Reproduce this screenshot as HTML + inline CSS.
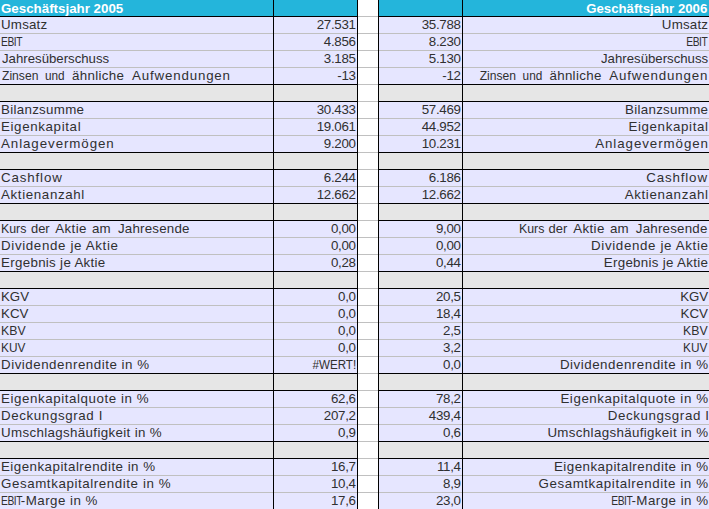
<!DOCTYPE html><html><head><meta charset="utf-8"><title>Kennzahlen</title><style>
html,body{margin:0;padding:0;background:#fff;}
body{width:709px;height:509px;overflow:hidden;position:relative;font-family:"Liberation Sans",sans-serif;}
.r{position:absolute;left:0;width:709px;height:17px;}
.c{position:absolute;top:0;height:16px;overflow:hidden;white-space:nowrap;font-size:13.33px;line-height:16px;color:#303030;}
.c span{position:absolute;top:0px;display:block;white-space:nowrap;}
.a{left:0;width:273px;}
.a span{left:0;transform-origin:0 50%;}
.b{left:274px;width:83px;}
.g{left:358px;width:20px;background:#fff !important;}
.cc{left:379px;width:83px;}
.d{left:463px;width:246px;}
.b span,.cc span,.d span{right:0;transform-origin:100% 50%;}
.D .c{background:#E6E6FF;}
.B .c{background:#E6E6E6;}
.H .c{background:#24B5DB;color:#fff;font-weight:bold;font-size:13.33px;}
.H .c span{top:1px;}
.hl{position:absolute;left:0;width:709px;height:1px;top:16px;background:#C0C0C0;}
.hk{position:absolute;left:0;width:709px;height:1px;top:16px;background:#000;}
.hg{position:absolute;left:358px;width:20px;height:1px;top:16px;background:#C0C0C0;}
.v{position:absolute;top:0;width:1px;height:509px;background:#000;}
</style></head><body>
<div class="r H" style="top:0px">
<div class="c a"><span style="left:1.00px">Geschäftsjahr 2005</span></div><div class="c b"></div><div class="c g"></div><div class="c cc"></div><div class="c d"><span style="transform:scaleX(0.9900);right:1.30px">Geschäftsjahr 2006</span></div>
<div class="hk"></div>
<div class="hg"></div>
</div>
<div class="r D" style="top:17px">
<div class="c a"><span style="letter-spacing:0.200px;left:1.00px">Umsatz</span></div><div class="c b"><span style="letter-spacing:-0.300px;right:1.30px">27.531</span></div><div class="c g"></div><div class="c cc"><span style="letter-spacing:-0.300px;right:1.30px">35.788</span></div><div class="c d"><span style="letter-spacing:0.200px;right:0.80px">Umsatz</span></div>
<div class="hl"></div>
</div>
<div class="r D" style="top:34px">
<div class="c a"><span style="letter-spacing:-0.600px;transform:scaleX(0.7700);left:1.00px">EBIT</span></div><div class="c b"><span style="letter-spacing:-0.300px;right:1.30px">4.856</span></div><div class="c g"></div><div class="c cc"><span style="letter-spacing:-0.300px;right:1.30px">8.230</span></div><div class="c d"><span style="letter-spacing:-0.600px;transform:scaleX(0.7700);right:1.46px">EBIT</span></div>
<div class="hl"></div>
</div>
<div class="r D" style="top:51px">
<div class="c a"><span style="transform:scaleX(0.9907);left:2.00px">Jahresüberschuss</span></div><div class="c b"><span style="letter-spacing:-0.300px;right:1.30px">3.185</span></div><div class="c g"></div><div class="c cc"><span style="letter-spacing:-0.300px;right:1.30px">5.130</span></div><div class="c d"><span style="transform:scaleX(0.9907);right:1.00px">Jahresüberschuss</span></div>
<div class="hl"></div>
</div>
<div class="r D" style="top:68px">
<div class="c a"><span style="transform:scaleX(0.9093);left:1.90px">Zinsen</span><span style="transform:scaleX(0.8843);left:45.00px">und</span><span style="letter-spacing:0.323px;left:72.10px">ähnliche</span><span style="letter-spacing:0.826px;left:132.00px">Aufwendungen</span></div><div class="c b"><span style="letter-spacing:-0.300px;right:1.30px">-13</span></div><div class="c g"></div><div class="c cc"><span style="letter-spacing:-0.300px;right:1.30px">-12</span></div><div class="c d"><span style="transform:scaleX(0.9093);right:193.42px">Zinsen</span><span style="transform:scaleX(0.8843);right:167.04px">und</span><span style="letter-spacing:0.323px;right:107.36px">ähnliche</span><span style="letter-spacing:0.826px;right:0.86px">Aufwendungen</span></div>
<div class="hk"></div>
<div class="hg"></div>
</div>
<div class="r B" style="top:85px">
<div class="c a"></div><div class="c b"></div><div class="c g"></div><div class="c cc"></div><div class="c d"></div>
<div class="hk"></div>
<div class="hg"></div>
</div>
<div class="r D" style="top:102px">
<div class="c a"><span style="letter-spacing:0.300px;left:1.00px">Bilanzsumme</span></div><div class="c b"><span style="letter-spacing:-0.300px;right:1.30px">30.433</span></div><div class="c g"></div><div class="c cc"><span style="letter-spacing:-0.300px;right:1.30px">57.469</span></div><div class="c d"><span style="letter-spacing:0.300px;right:0.70px">Bilanzsumme</span></div>
<div class="hl"></div>
</div>
<div class="r D" style="top:119px">
<div class="c a"><span style="letter-spacing:0.636px;left:1.00px">Eigenkapital</span></div><div class="c b"><span style="letter-spacing:-0.300px;right:1.30px">19.061</span></div><div class="c g"></div><div class="c cc"><span style="letter-spacing:-0.300px;right:1.30px">44.952</span></div><div class="c d"><span style="letter-spacing:0.636px;right:0.36px">Eigenkapital</span></div>
<div class="hl"></div>
</div>
<div class="r D" style="top:136px">
<div class="c a"><span style="letter-spacing:0.923px;left:1.00px">Anlagevermögen</span></div><div class="c b"><span style="letter-spacing:-0.300px;right:1.30px">9.200</span></div><div class="c g"></div><div class="c cc"><span style="letter-spacing:-0.300px;right:1.30px">10.231</span></div><div class="c d"><span style="letter-spacing:0.923px;right:0.08px">Anlagevermögen</span></div>
<div class="hk"></div>
<div class="hg"></div>
</div>
<div class="r B" style="top:153px">
<div class="c a"></div><div class="c b"></div><div class="c g"></div><div class="c cc"></div><div class="c d"></div>
<div class="hk"></div>
<div class="hg"></div>
</div>
<div class="r D" style="top:170px">
<div class="c a"><span style="letter-spacing:0.857px;left:1.00px">Cashflow</span></div><div class="c b"><span style="letter-spacing:-0.300px;right:1.30px">6.244</span></div><div class="c g"></div><div class="c cc"><span style="letter-spacing:-0.300px;right:1.30px">6.186</span></div><div class="c d"><span style="letter-spacing:0.857px;right:1.14px">Cashflow</span></div>
<div class="hl"></div>
</div>
<div class="r D" style="top:187px">
<div class="c a"><span style="letter-spacing:0.636px;left:1.00px">Aktienanzahl</span></div><div class="c b"><span style="letter-spacing:-0.300px;right:1.30px">12.662</span></div><div class="c g"></div><div class="c cc"><span style="letter-spacing:-0.300px;right:1.30px">12.662</span></div><div class="c d"><span style="letter-spacing:0.636px;right:0.36px">Aktienanzahl</span></div>
<div class="hk"></div>
<div class="hg"></div>
</div>
<div class="r B" style="top:204px">
<div class="c a"></div><div class="c b"></div><div class="c g"></div><div class="c cc"></div><div class="c d"></div>
<div class="hk"></div>
<div class="hg"></div>
</div>
<div class="r D" style="top:221px">
<div class="c a"><span style="transform:scaleX(0.9274);left:1.07px">Kurs</span><span style="transform:scaleX(0.9685);left:31.00px">der</span><span style="letter-spacing:0.371px;left:55.30px">Aktie</span><span style="letter-spacing:0.188px;left:92.00px">am</span><span style="letter-spacing:0.207px;left:117.90px">Jahresende</span></div><div class="c b"><span style="letter-spacing:-0.300px;right:1.30px">0,00</span></div><div class="c g"></div><div class="c cc"><span style="letter-spacing:-0.300px;right:1.30px">9,00</span></div><div class="c d"><span style="transform:scaleX(0.9274);right:164.61px">Kurs</span><span style="transform:scaleX(0.9685);right:141.44px">der</span><span style="letter-spacing:0.371px;right:104.32px">Aktie</span><span style="letter-spacing:0.188px;right:80.21px">am</span><span style="letter-spacing:0.207px;right:1.48px">Jahresende</span></div>
<div class="hl"></div>
</div>
<div class="r D" style="top:238px">
<div class="c a"><span style="letter-spacing:0.647px;left:1.00px">Dividende je Aktie</span></div><div class="c b"><span style="letter-spacing:-0.300px;right:1.30px">0,00</span></div><div class="c g"></div><div class="c cc"><span style="letter-spacing:-0.300px;right:1.30px">0,00</span></div><div class="c d"><span style="letter-spacing:0.647px;right:0.35px">Dividende je Aktie</span></div>
<div class="hl"></div>
</div>
<div class="r D" style="top:255px">
<div class="c a"><span style="letter-spacing:0.312px;left:1.00px">Ergebnis je Aktie</span></div><div class="c b"><span style="letter-spacing:-0.300px;right:1.30px">0,28</span></div><div class="c g"></div><div class="c cc"><span style="letter-spacing:-0.300px;right:1.30px">0,44</span></div><div class="c d"><span style="letter-spacing:0.312px;right:0.69px">Ergebnis je Aktie</span></div>
<div class="hk"></div>
<div class="hg"></div>
</div>
<div class="r B" style="top:272px">
<div class="c a"></div><div class="c b"></div><div class="c g"></div><div class="c cc"></div><div class="c d"></div>
<div class="hk"></div>
<div class="hg"></div>
</div>
<div class="r D" style="top:289px">
<div class="c a"><span style="transform:scaleX(0.9940);left:1.00px">KGV</span></div><div class="c b"><span style="letter-spacing:-0.300px;right:1.30px">0,0</span></div><div class="c g"></div><div class="c cc"><span style="letter-spacing:-0.300px;right:1.30px">20,5</span></div><div class="c d"><span style="transform:scaleX(0.9940);right:1.00px">KGV</span></div>
<div class="hl"></div>
</div>
<div class="r D" style="top:306px">
<div class="c a"><span style="left:1.00px">KCV</span></div><div class="c b"><span style="letter-spacing:-0.300px;right:1.30px">0,0</span></div><div class="c g"></div><div class="c cc"><span style="letter-spacing:-0.300px;right:1.30px">18,4</span></div><div class="c d"><span style="right:1.00px">KCV</span></div>
<div class="hl"></div>
</div>
<div class="r D" style="top:323px">
<div class="c a"><span style="transform:scaleX(0.9231);left:1.00px">KBV</span></div><div class="c b"><span style="letter-spacing:-0.300px;right:1.30px">0,0</span></div><div class="c g"></div><div class="c cc"><span style="letter-spacing:-0.300px;right:1.30px">2,5</span></div><div class="c d"><span style="transform:scaleX(0.9231);right:1.00px">KBV</span></div>
<div class="hl"></div>
</div>
<div class="r D" style="top:340px">
<div class="c a"><span style="transform:scaleX(0.8889);left:1.00px">KUV</span></div><div class="c b"><span style="letter-spacing:-0.300px;right:1.30px">0,0</span></div><div class="c g"></div><div class="c cc"><span style="letter-spacing:-0.300px;right:1.30px">3,2</span></div><div class="c d"><span style="transform:scaleX(0.8889);right:2.00px">KUV</span></div>
<div class="hl"></div>
</div>
<div class="r D" style="top:357px">
<div class="c a"><span style="letter-spacing:0.524px;left:1.00px">Dividendenrendite in %</span></div><div class="c b"><span style="transform:scaleX(0.8700);right:1.00px">#WERT!</span></div><div class="c g"></div><div class="c cc"><span style="letter-spacing:-0.300px;right:1.30px">0,0</span></div><div class="c d"><span style="letter-spacing:0.524px;right:0.48px">Dividendenrendite in %</span></div>
<div class="hk"></div>
<div class="hg"></div>
</div>
<div class="r B" style="top:374px">
<div class="c a"></div><div class="c b"></div><div class="c g"></div><div class="c cc"></div><div class="c d"></div>
<div class="hk"></div>
<div class="hg"></div>
</div>
<div class="r D" style="top:391px">
<div class="c a"><span style="letter-spacing:0.571px;left:1.00px">Eigenkapitalquote in %</span></div><div class="c b"><span style="letter-spacing:-0.300px;right:1.30px">62,6</span></div><div class="c g"></div><div class="c cc"><span style="letter-spacing:-0.300px;right:1.30px">78,2</span></div><div class="c d"><span style="letter-spacing:0.571px;right:0.43px">Eigenkapitalquote in %</span></div>
<div class="hl"></div>
</div>
<div class="r D" style="top:408px">
<div class="c a"><span style="letter-spacing:0.615px;left:1.00px">Deckungsgrad I</span></div><div class="c b"><span style="letter-spacing:-0.300px;right:1.30px">207,2</span></div><div class="c g"></div><div class="c cc"><span style="letter-spacing:-0.300px;right:1.30px">439,4</span></div><div class="c d"><span style="letter-spacing:0.615px;right:-0.62px">Deckungsgrad I</span></div>
<div class="hl"></div>
</div>
<div class="r D" style="top:425px">
<div class="c a"><span style="letter-spacing:0.348px;left:1.00px">Umschlagshäufigkeit in %</span></div><div class="c b"><span style="letter-spacing:-0.300px;right:1.30px">0,9</span></div><div class="c g"></div><div class="c cc"><span style="letter-spacing:-0.300px;right:1.30px">0,6</span></div><div class="c d"><span style="letter-spacing:0.348px;right:0.65px">Umschlagshäufigkeit in %</span></div>
<div class="hk"></div>
<div class="hg"></div>
</div>
<div class="r B" style="top:442px">
<div class="c a"></div><div class="c b"></div><div class="c g"></div><div class="c cc"></div><div class="c d"></div>
<div class="hk"></div>
<div class="hg"></div>
</div>
<div class="r D" style="top:459px">
<div class="c a"><span style="letter-spacing:0.478px;left:1.00px">Eigenkapitalrendite in %</span></div><div class="c b"><span style="letter-spacing:-0.300px;right:1.30px">16,7</span></div><div class="c g"></div><div class="c cc"><span style="letter-spacing:-0.300px;right:1.30px">11,4</span></div><div class="c d"><span style="letter-spacing:0.478px;right:0.52px">Eigenkapitalrendite in %</span></div>
<div class="hl"></div>
</div>
<div class="r D" style="top:476px">
<div class="c a"><span style="letter-spacing:0.583px;left:1.00px">Gesamtkapitalrendite in %</span></div><div class="c b"><span style="letter-spacing:-0.300px;right:1.30px">10,4</span></div><div class="c g"></div><div class="c cc"><span style="letter-spacing:-0.300px;right:1.30px">8,9</span></div><div class="c d"><span style="letter-spacing:0.583px;right:0.42px">Gesamtkapitalrendite in %</span></div>
<div class="hl"></div>
</div>
<div class="r D" style="top:493px">
<div class="c a"><span style="letter-spacing:-0.600px;transform:scaleX(0.7700);left:1.00px">EBIT</span><span style="letter-spacing:0.470px;left:20.80px">-Marge in %</span></div><div class="c b"><span style="letter-spacing:-0.300px;right:1.30px">17,6</span></div><div class="c g"></div><div class="c cc"><span style="letter-spacing:-0.300px;right:1.30px">23,0</span></div><div class="c d"><span style="letter-spacing:-0.600px;transform:scaleX(0.7700);right:76.46px">EBIT</span><span style="letter-spacing:0.470px;right:0.53px">-Marge in %</span></div>
<div class="hl"></div>
</div>
<div class="v" style="left:273px"></div>
<div class="v" style="left:357px"></div>
<div class="v" style="left:378px"></div>
<div class="v" style="left:462px"></div>
</body></html>
